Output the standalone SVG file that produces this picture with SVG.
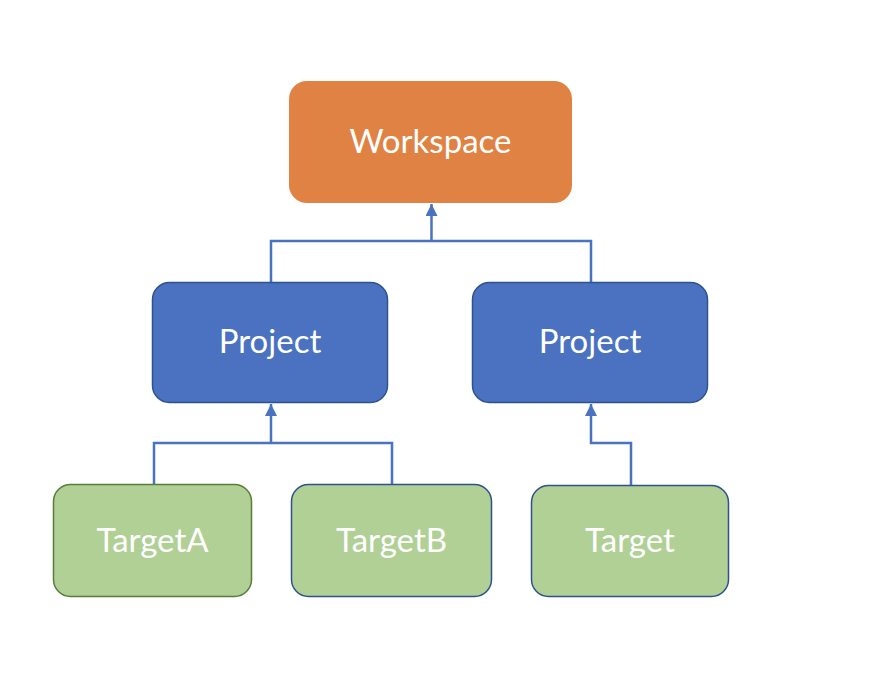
<svg xmlns="http://www.w3.org/2000/svg" width="886" height="688" viewBox="0 0 886 688">
<style>
.lbl{font-family:Lato,"Open Sans","Liberation Sans",sans-serif;font-size:33px;fill:#fff;text-anchor:middle}
.proj{fill:#4A72C1;stroke:#2F528F;stroke-width:1.5}
.tgtg{fill:#B0D095;stroke:#587E3A;stroke-width:1.5}
.tgtb{fill:#B0D095;stroke:#2F528F;stroke-width:1.5}
.conn{fill:none;stroke:#4A72C1;stroke-width:2.5}
</style>
<defs>
<marker id="arr" viewBox="0 0 10 10" refX="10" refY="5" markerWidth="4.8" markerHeight="4.8" orient="auto" markerUnits="strokeWidth">
<path d="M0,0 L10,5 L0,10 z" fill="#4A72C1"/>
</marker>
</defs>
<rect width="886" height="688" fill="#fff"/>
<g id="connectors">
<path class="conn" d="M271,282 V241 H591 V282"/>
<path class="conn" d="M431.5,241 V204" marker-end="url(#arr)"/>
<path class="conn" d="M154,485 V443 H392 V485"/>
<path class="conn" d="M271,443 V404" marker-end="url(#arr)"/>
<path class="conn" d="M631,485 V443 H591 V404" marker-end="url(#arr)"/>
</g>
<g id="workspace">
<rect x="289" y="81" width="283" height="122" rx="18" fill="#E08243"/>
<text class="lbl" x="430.5" y="153">Workspace</text>
</g>
<g id="project1">
<rect class="proj" x="152.5" y="282.5" width="235" height="120" rx="17"/>
<text class="lbl" x="270" y="353">Project</text>
</g>
<g id="project2">
<rect class="proj" x="472.5" y="282.5" width="235" height="120" rx="17"/>
<text class="lbl" x="590" y="353">Project</text>
</g>
<g id="targetA">
<rect class="tgtg" x="53.5" y="484.5" width="198" height="112" rx="17"/>
<text class="lbl" x="152.5" y="552">TargetA</text>
</g>
<g id="targetB">
<rect class="tgtb" x="291.5" y="484.5" width="200" height="112" rx="17"/>
<text class="lbl" x="391.5" y="552">TargetB</text>
</g>
<g id="target">
<rect class="tgtb" x="531.5" y="485.5" width="197" height="111" rx="17"/>
<text class="lbl" x="630" y="552">Target</text>
</g>
</svg>
